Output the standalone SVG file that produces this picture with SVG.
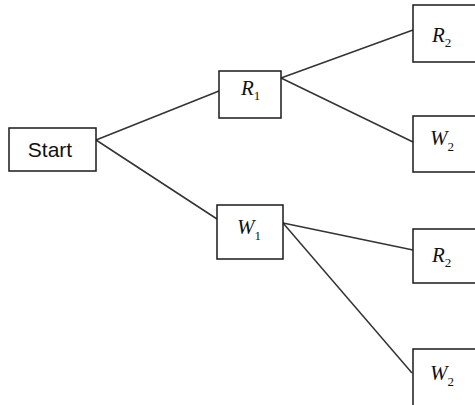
<svg xmlns="http://www.w3.org/2000/svg" width="475" height="405" viewBox="0 0 475 405">
<style>
.box{fill:#fff;stroke:#1a1a1a;stroke-width:1.5}
.ln{stroke:#333;stroke-width:1.5;fill:none}
.lbl{font-family:"Liberation Sans",Arial,sans-serif;font-size:21px;fill:#111}
.v{font-family:"Liberation Serif","Times New Roman",serif;font-size:21px;font-style:italic;fill:#111}
.s{font-family:"Liberation Serif","Times New Roman",serif;font-size:13px;font-style:normal}
</style>
<rect width="475" height="405" fill="#fff"/>
<g id="connectors">
<line class="ln" x1="96" y1="140" x2="219" y2="91"/>
<line class="ln" x1="96" y1="140" x2="217" y2="219"/>
<line class="ln" x1="281" y1="78" x2="413" y2="30"/>
<line class="ln" x1="281" y1="78" x2="413" y2="142"/>
<line class="ln" x1="283" y1="223" x2="413" y2="250"/>
<line class="ln" x1="283" y1="223" x2="412" y2="373"/>
</g>
<g id="start">
<rect class="box" x="9" y="128" width="87" height="43"/>
<text class="lbl" x="50" y="157" text-anchor="middle">Start</text>
</g>
<g id="r1">
<rect class="box" x="219" y="71" width="62" height="47"/>
<text class="v" x="241" y="95">R<tspan class="s" dy="5">1</tspan></text>
</g>
<g id="w1">
<rect class="box" x="217" y="205" width="66" height="54"/>
<text class="v" x="237" y="234">W<tspan class="s" dy="6">1</tspan></text>
</g>
<g id="r2a">
<rect class="box" x="413" y="5" width="70" height="57"/>
<text class="v" x="432" y="42">R<tspan class="s" dy="5">2</tspan></text>
</g>
<g id="w2a">
<rect class="box" x="413" y="116" width="70" height="56"/>
<text class="v" x="430" y="145">W<tspan class="s" dy="6">2</tspan></text>
</g>
<g id="r2b">
<rect class="box" x="413" y="229" width="70" height="54"/>
<text class="v" x="432" y="262">R<tspan class="s" dy="5">2</tspan></text>
</g>
<g id="w2b">
<rect class="box" x="413" y="349" width="70" height="70"/>
<text class="v" x="430" y="380">W<tspan class="s" dy="6">2</tspan></text>
</g>
</svg>
